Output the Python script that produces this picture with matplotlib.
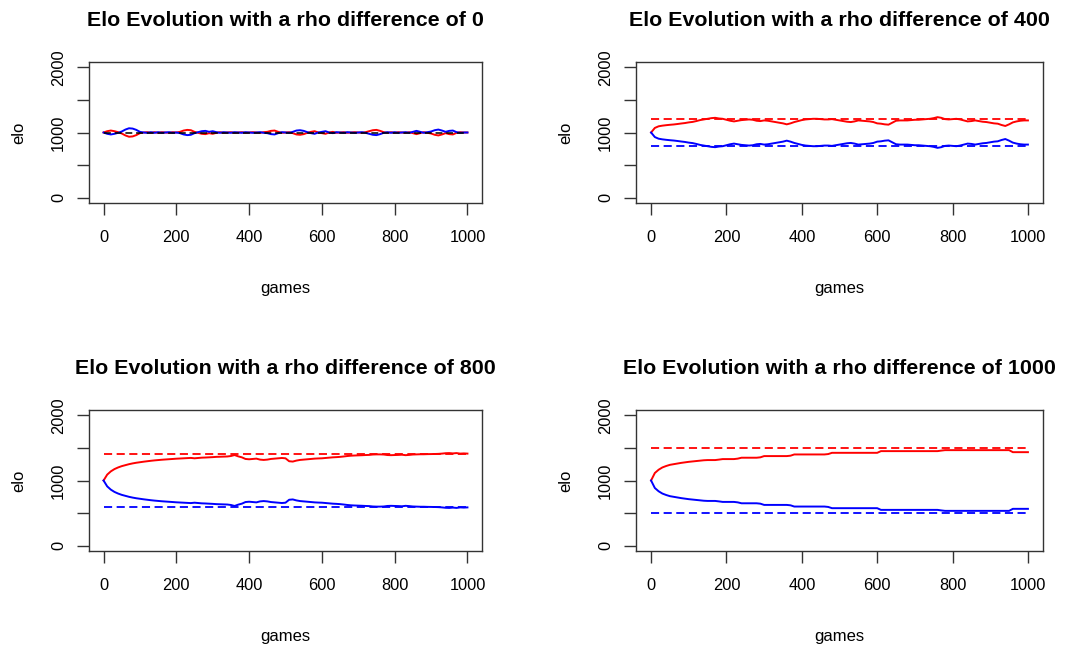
import numpy as np
import matplotlib
matplotlib.use('Agg')
import matplotlib.pyplot as plt

plt.rcParams['font.family'] = ['Liberation Sans', 'DejaVu Sans']

# games index (one value read every 10 games)
games = np.arange(0, 1001, 10)

rho_diff = [0, 400, 800, 1000]
ref_red = [1000, 1200, 1400, 1500]
ref_blue = [1000, 800, 600, 500]

red_0 = [1000, 1020, 1030, 1020, 1005, 985, 955, 935, 940, 960,
         990, 1000, 1005, 995, 1005, 995, 1005, 1000, 995, 1005,
         1000, 1010, 1030, 1040, 1035, 1010, 995, 980, 975, 990,
         980, 995, 1005, 995, 1000, 1005, 995, 1000, 1005, 995,
         1000, 1005, 1000, 995, 1005, 1010, 1025, 1030, 1010, 995,
         1000, 1005, 990, 970, 965, 975, 995, 1010, 1020, 1000,
         990, 980, 1000, 1010, 995, 1000, 1005, 995, 1000, 1005,
         1000, 995, 1005, 1020, 1035, 1040, 1025, 1005, 995, 1005,
         995, 1005, 1000, 995, 1005, 990, 975, 990, 1005, 995,
         985, 965, 955, 970, 990, 975, 970, 995, 1005, 1000,
         1000]
blue_0 = [1000, 980, 970, 980, 995, 1015, 1045, 1065, 1060, 1040,
          1010, 1000, 995, 1005, 995, 1005, 995, 1000, 1005, 995,
          1000, 990, 970, 960, 965, 990, 1005, 1020, 1025, 1010,
          1020, 1005, 995, 1005, 1000, 995, 1005, 1000, 995, 1005,
          1000, 995, 1000, 1005, 995, 990, 975, 970, 990, 1005,
          1000, 995, 1010, 1030, 1035, 1025, 1005, 990, 980, 1000,
          1010, 1020, 1000, 990, 1005, 1000, 995, 1005, 1000, 995,
          1000, 1005, 995, 980, 965, 960, 975, 995, 1005, 995,
          1005, 995, 1000, 1005, 995, 1010, 1025, 1010, 995, 1005,
          1015, 1035, 1045, 1030, 1010, 1025, 1030, 1005, 995, 1000,
          1000]

red_400 = [1000, 1070, 1095, 1105, 1112, 1118, 1123, 1130, 1138, 1145,
           1155, 1162, 1175, 1190, 1200, 1210, 1220, 1225, 1215, 1210,
           1195, 1180, 1170, 1180, 1190, 1195, 1200, 1195, 1180, 1175,
           1185, 1180, 1170, 1160, 1150, 1140, 1125, 1140, 1160, 1175,
           1190, 1200, 1205, 1210, 1210, 1205, 1200, 1200, 1205, 1195,
           1185, 1175, 1165, 1160, 1170, 1185, 1180, 1175, 1170, 1160,
           1140, 1135, 1125, 1120, 1150, 1180, 1185, 1185, 1185, 1190,
           1195, 1195, 1200, 1205, 1210, 1220, 1235, 1225, 1205, 1200,
           1205, 1210, 1200, 1185, 1170, 1175, 1185, 1175, 1165, 1160,
           1150, 1140, 1135, 1115, 1100, 1125, 1155, 1170, 1180, 1185,
           1185]
blue_400 = [1000, 930, 905, 895, 888, 882, 877, 870, 862, 855,
            845, 838, 825, 810, 800, 790, 780, 775, 785, 790,
            805, 820, 830, 820, 810, 805, 800, 805, 820, 825,
            815, 820, 830, 840, 850, 860, 875, 860, 840, 825,
            810, 800, 795, 790, 790, 795, 800, 800, 795, 805,
            815, 825, 835, 840, 830, 815, 820, 825, 830, 840,
            860, 865, 875, 880, 850, 820, 815, 815, 815, 810,
            805, 805, 800, 795, 790, 780, 765, 775, 795, 800,
            795, 790, 800, 815, 830, 825, 815, 825, 835, 840,
            850, 860, 865, 885, 900, 875, 845, 830, 820, 815,
            815]

red_800 = [1000, 1090, 1140, 1175, 1200, 1220, 1235, 1250, 1262, 1272,
           1280, 1288, 1295, 1302, 1308, 1313, 1318, 1322, 1326, 1330,
           1334, 1337, 1340, 1343, 1346, 1340, 1345, 1350, 1352, 1355,
           1358, 1362, 1364, 1366, 1368, 1375, 1390, 1370, 1355, 1330,
           1325, 1330, 1335, 1320, 1315, 1320, 1330, 1335, 1340, 1345,
           1340, 1295, 1290, 1305, 1315, 1320, 1325, 1330, 1335, 1338,
           1340, 1345, 1350, 1355, 1358, 1362, 1368, 1375, 1380, 1383,
           1385, 1387, 1390, 1392, 1398, 1400, 1400, 1398, 1390, 1388,
           1390, 1392, 1395, 1388, 1392, 1398, 1400, 1402, 1402, 1404,
           1405, 1406, 1408, 1412, 1418, 1420, 1415, 1420, 1412, 1415,
           1412]
blue_800 = [1000, 910, 860, 825, 800, 780, 765, 750, 738, 728,
            720, 712, 705, 698, 692, 687, 682, 678, 674, 670,
            666, 663, 660, 657, 654, 660, 655, 650, 648, 645,
            642, 638, 636, 634, 632, 625, 610, 630, 645, 670,
            675, 670, 665, 680, 685, 680, 670, 665, 660, 655,
            660, 705, 710, 695, 685, 680, 675, 670, 665, 662,
            660, 655, 650, 645, 642, 638, 632, 625, 620, 617,
            615, 613, 610, 608, 602, 600, 600, 602, 610, 612,
            610, 608, 605, 612, 608, 602, 600, 598, 598, 596,
            595, 594, 592, 588, 582, 580, 585, 580, 588, 585,
            588]

red_1000 = [1000, 1115, 1165, 1200, 1222, 1240, 1250, 1260, 1270, 1278,
            1286, 1292, 1298, 1304, 1310, 1313, 1313, 1313, 1320, 1328,
            1328, 1328, 1328, 1335, 1349, 1349, 1349, 1349, 1349, 1355,
            1374, 1374, 1374, 1374, 1374, 1374, 1374, 1380, 1399, 1399,
            1399, 1399, 1399, 1399, 1399, 1399, 1399, 1405, 1424, 1424,
            1424, 1424, 1424, 1424, 1424, 1424, 1424, 1424, 1424, 1424,
            1424, 1450, 1450, 1450, 1450, 1450, 1450, 1450, 1450, 1450,
            1450, 1450, 1450, 1450, 1450, 1450, 1450, 1458, 1465, 1465,
            1465, 1465, 1465, 1465, 1465, 1465, 1465, 1465, 1465, 1465,
            1465, 1465, 1465, 1465, 1465, 1465, 1434, 1434, 1434, 1434,
            1434]
blue_1000 = [1000, 885, 835, 800, 778, 760, 750, 740, 730, 722,
             714, 708, 702, 696, 690, 687, 687, 687, 680, 672,
             672, 672, 672, 665, 651, 651, 651, 651, 651, 645,
             626, 626, 626, 626, 626, 626, 626, 620, 601, 601,
             601, 601, 601, 601, 601, 601, 601, 595, 576, 576,
             576, 576, 576, 576, 576, 576, 576, 576, 576, 576,
             576, 550, 550, 550, 550, 550, 550, 550, 550, 550,
             550, 550, 550, 550, 550, 550, 550, 542, 535, 535,
             535, 535, 535, 535, 535, 535, 535, 535, 535, 535,
             535, 535, 535, 535, 535, 535, 566, 566, 566, 566,
             566]

reds = [red_0, red_400, red_800, red_1000]
blues = [blue_0, blue_400, blue_800, blue_1000]

W, H = 1068, 645
boxes = [(89, 62, 482, 203), (636, 62, 1043, 203),
         (89, 410, 482, 551), (636, 410, 1043, 551)]

fig = plt.figure(figsize=(W / 100, H / 100), dpi=100)

for k in range(4):
    x0, y0, x1, y1 = boxes[k]
    ax = fig.add_axes([x0 / W, 1 - y1 / H, (x1 - x0) / W, (y1 - y0) / H])
    if k == 0:
        ax.plot(games, reds[k], color='red', lw=1.4)
        ax.plot(games, blues[k], color='blue', lw=1.4)
        ax.hlines(ref_red[k], games[0], games[-1], colors='black',
                  linestyles=(0, (4.5, 2.5)), lw=1.1)
    else:
        ax.hlines(ref_red[k], games[0], games[-1], colors='red',
                  linestyles=(0, (4.5, 2.5)), lw=1.3)
        ax.hlines(ref_blue[k], games[0], games[-1], colors='blue',
                  linestyles=(0, (4.5, 2.5)), lw=1.3)
        ax.plot(games, reds[k], color='red', lw=1.4)
        ax.plot(games, blues[k], color='blue', lw=1.4)

    ax.set_xlim(-40, 1040)
    ax.set_ylim(-80, 2080)
    ax.set_xticks([0, 200, 400, 600, 800, 1000])
    ax.set_yticks([0, 500, 1000, 1500, 2000])
    ax.set_yticklabels(['0', '', '1000', '', '2000'], rotation=90, va='center')
    ax.tick_params(length=8.5, width=1, color='#333333', labelsize=11.8, pad=8)
    ax.tick_params(axis='x', pad=11)
    for s in ax.spines.values():
        s.set_color('#333333')
        s.set_linewidth(1)
    ax.set_title('Elo Evolution with a rho difference of %d' % rho_diff[k],
                 fontsize=15.4, fontweight='bold', pad=26)
    ax.set_xlabel('games', fontsize=12, labelpad=26)
    ax.set_ylabel('elo', fontsize=12, labelpad=18)

fig.savefig('out.png', dpi=100)
